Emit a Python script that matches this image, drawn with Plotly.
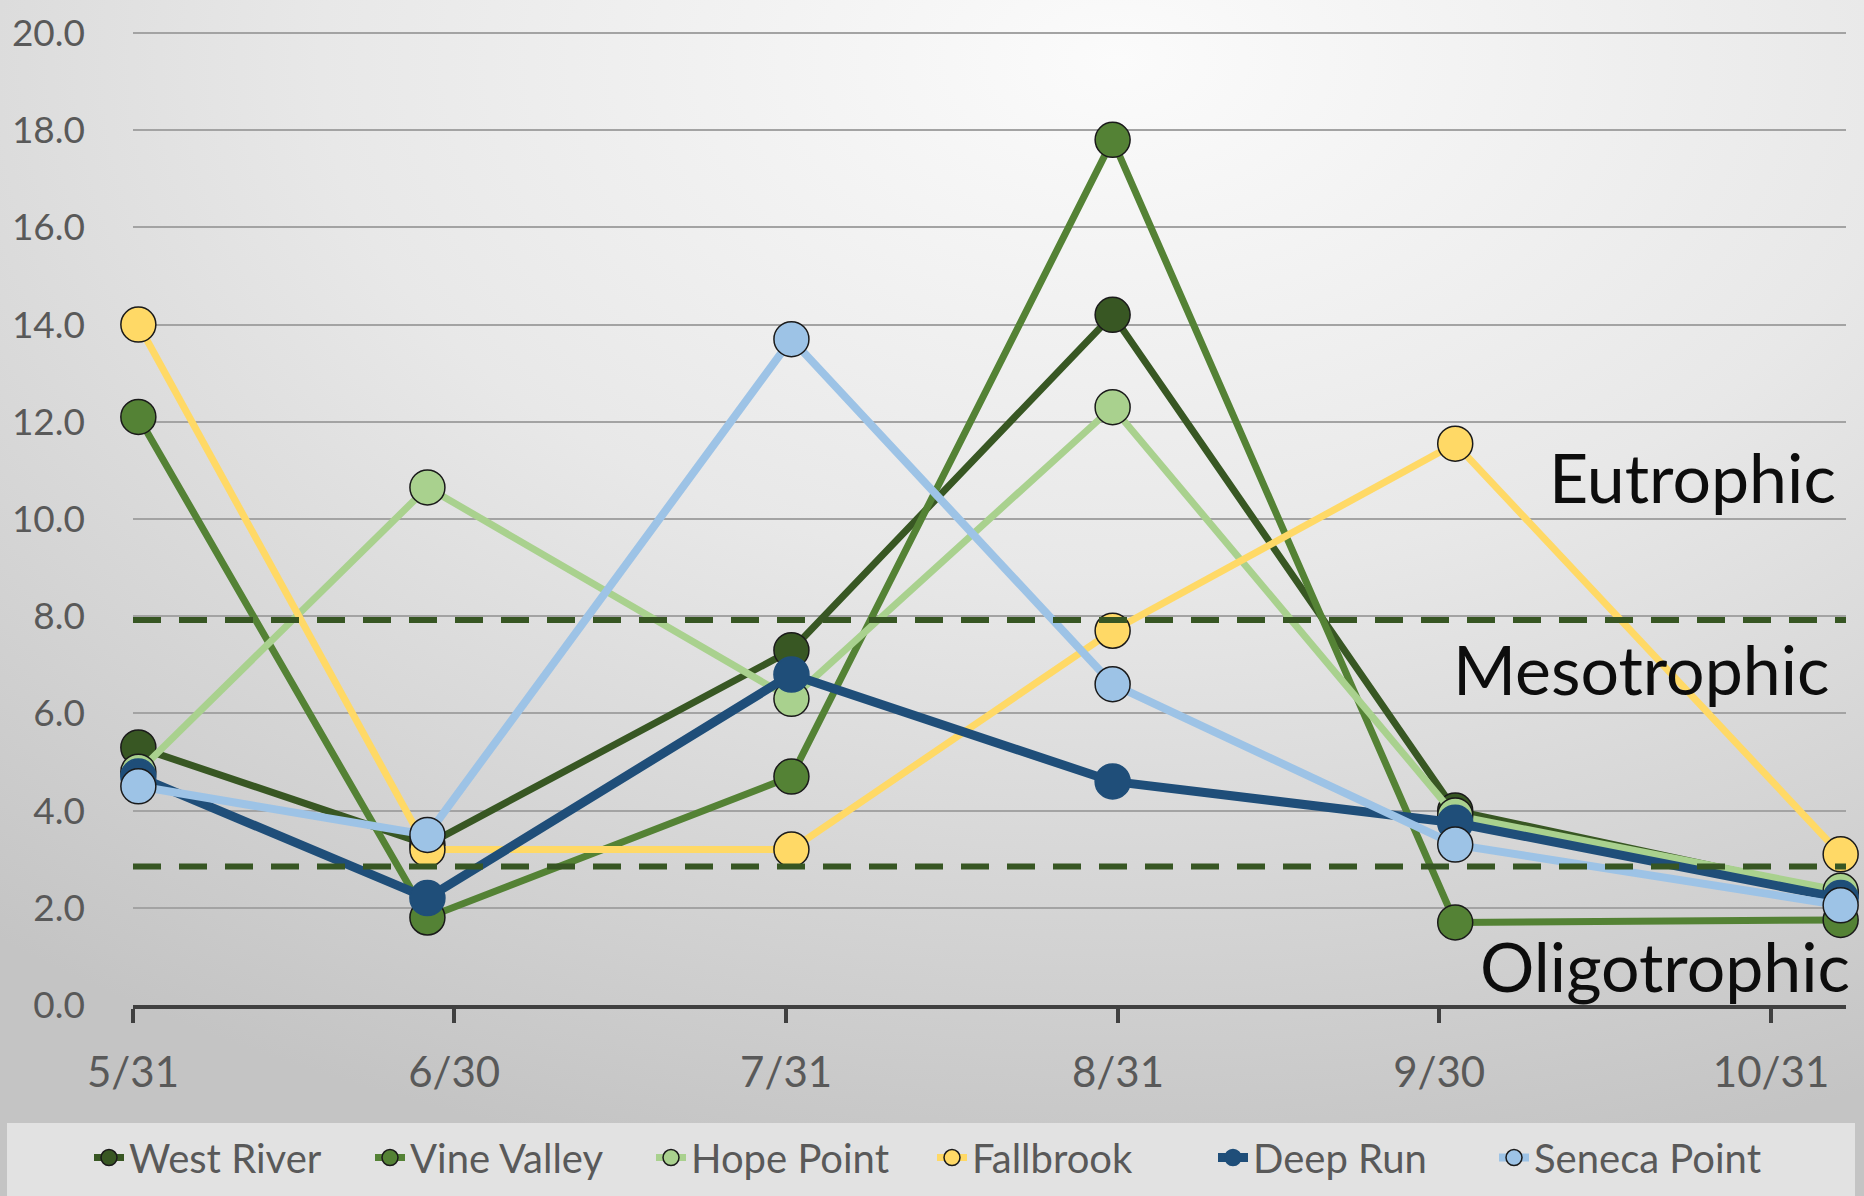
import base64
import plotly.graph_objects as go

# fechas de muestreo (los puntos caen a mitad de dia en el eje de fechas)
sample_dates = ["2021-05-31 12:00", "2021-06-27 12:00", "2021-07-31 12:00",
                "2021-08-30 12:00", "2021-10-01 12:00", "2021-11-06 12:00"]

west_river = [5.3, 3.3, 7.3, 14.2, 4.0, 2.3]
vine_valley = [12.1, 1.8, 4.7, 17.8, 1.7, 1.75]
hope_point = [4.8, 10.65, 6.3, 12.3, 3.9, 2.35]
fallbrook = [14.0, 3.2, 3.2, 7.7, 11.55, 3.1]
deep_run = [4.7, 2.2, 6.8, 4.6, 3.75, 2.2]
seneca_point = [4.5, 3.5, 13.7, 6.6, 3.3, 2.05]

# limites de estado trofico (lineas discontinuas)
thresholds = [2.85, 7.92]
zone_labels = ["Eutrophic", "Mesotrophic", "Oligotrophic"]

tick_dates = ["2021-05-31", "2021-06-30", "2021-07-31", "2021-08-31", "2021-09-30", "2021-10-31"]
tick_labels = ["5/31", "6/30", "7/31", "8/31", "9/30", "10/31"]
y_ticks = [0, 2, 4, 6, 8, 10, 12, 14, 16, 18, 20]

series = [
    ("West River", west_river, "#385723", "#1a1a1a", 7),
    ("Vine Valley", vine_valley, "#548235", "#1a1a1a", 7),
    ("Hope Point", hope_point, "#a9d18e", "#1a1a1a", 7),
    ("Fallbrook", fallbrook, "#ffd966", "#1a1a1a", 7),
    ("Deep Run", deep_run, "#1f4e79", "#1f4e79", 9),
    ("Seneca Point", seneca_point, "#9dc3e6", "#1a1a1a", 8),
]

W, H = 1864, 1196
ml, mr, mt, mb = 133, 18, 31, 191
pw, ph = W - ml - mr, H - mt - mb

# fondo degradado tipo Excel
svg = (
    '<svg xmlns="http://www.w3.org/2000/svg" width="1864" height="1196">'
    '<defs><radialGradient id="g" cx="0.6" cy="0.05" r="0.95">'
    '<stop offset="0" stop-color="#fbfbfb"/><stop offset="0.45" stop-color="#e8e8e8"/>'
    '<stop offset="1" stop-color="#c4c4c4"/></radialGradient></defs>'
    '<rect width="1864" height="1196" fill="url(#g)"/></svg>'
)
bg_src = "data:image/svg+xml;base64," + base64.b64encode(svg.encode()).decode()

fig = go.Figure()

for name, vals, color, edge, lw in series:
    fig.add_trace(go.Scatter(
        x=sample_dates, y=vals, name=name, mode="lines+markers",
        line=dict(color=color, width=lw),
        marker=dict(size=35, color=color, line=dict(color=edge, width=1.5)),
        cliponaxis=False,
    ))

for t in thresholds:
    fig.add_shape(type="line", xref="paper", x0=0, x1=1, yref="y", y0=t, y1=t,
                  line=dict(color="#375623", width=6, dash="28px,18px"))

# caja gris de la leyenda a todo lo ancho
fig.add_shape(type="rect", xref="paper", yref="paper", layer="below",
              x0=(7 - ml) / pw, x1=(1855 - ml) / pw,
              y0=-(H - mt - ph) / ph - 0.01, y1=-(1123 - mt - ph) / ph,
              fillcolor="#e2e2e2", line=dict(width=0))

for label, yv, xs in zip(zone_labels, [10.88, 6.93, 0.82], [-8, -14, 6]):
    fig.add_annotation(text=label, xref="paper", x=1, xanchor="right", xshift=xs,
                       yref="y", y=yv, yanchor="middle", showarrow=False,
                       font=dict(size=68, color="#0d0d0d"))

fig.update_layout(
    width=W, height=H,
    margin=dict(l=ml, r=mr, t=mt, b=mb, autoexpand=False),
    paper_bgcolor="#d6d6d6",
    plot_bgcolor="rgba(0,0,0,0)",
    font=dict(family="Lato, Open Sans, sans-serif", color="#595959"),
    images=[dict(source=bg_src, xref="paper", yref="paper",
                 x=-ml / pw, y=1 + mt / ph, sizex=W / pw, sizey=H / ph,
                 xanchor="left", yanchor="top", sizing="stretch", layer="below")],
    showlegend=True,
    legend=dict(orientation="h", xref="container", yref="container",
                x=0.5, xanchor="center", y=0.005, yanchor="bottom",
                bgcolor="rgba(0,0,0,0)", font=dict(size=40, color="#595959"),
                itemsizing="trace", entrywidth=236, tracegroupgap=0),
    xaxis=dict(type="date", range=["2021-05-31", "2021-11-07"],
               tickvals=tick_dates, ticktext=tick_labels,
               showgrid=False, showline=True, linecolor="#404040", linewidth=4,
               ticks="outside", ticklen=14, tickwidth=4, tickcolor="#404040",
               tickfont=dict(size=42, color="#595959"), ticklabelstandoff=14),
    yaxis=dict(range=[0, 20.04], tickvals=y_ticks, tickformat=".1f",
               showgrid=True, gridcolor="#a3a3a3", gridwidth=2,
               zeroline=False, showline=False,
               tickfont=dict(size=37, color="#595959"), ticklabelstandoff=47),
)

fig.write_html("out.html", config={"displayModeBar": False},
               post_script="document.body.style.margin='0';")
